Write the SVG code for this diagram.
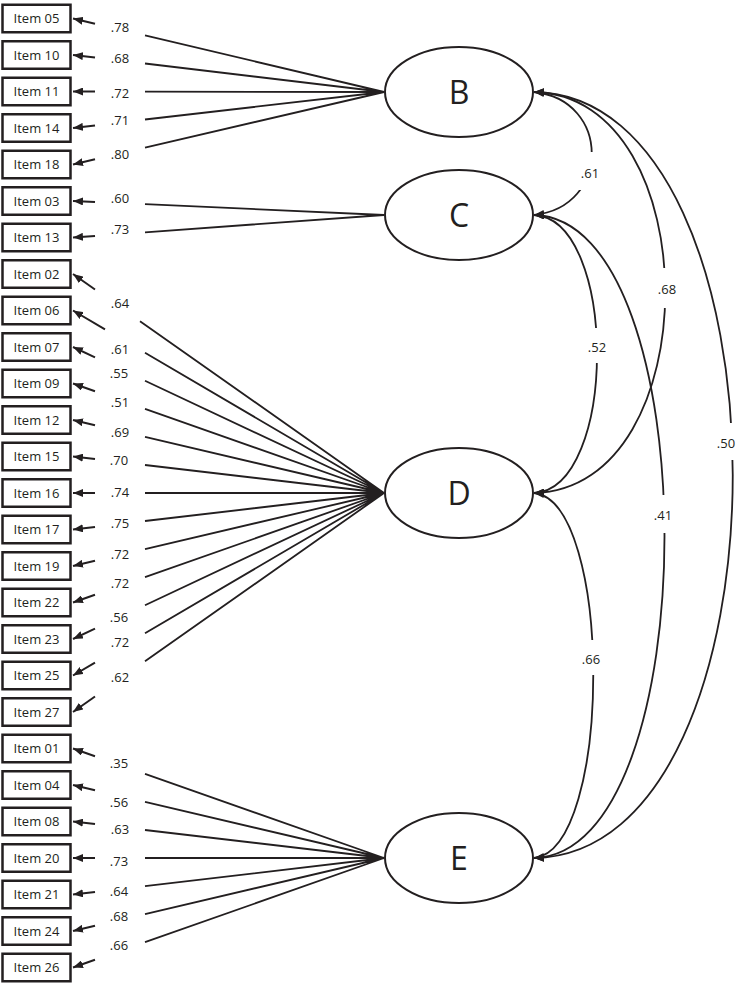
<svg xmlns="http://www.w3.org/2000/svg" width="736" height="983" viewBox="0 0 736 983">
<defs>
<marker id="ah" viewBox="0 0 10 8" refX="10" refY="4" markerWidth="10" markerHeight="8" markerUnits="userSpaceOnUse" orient="auto-start-reverse"><path d="M0,0 L10,4 L0,8 z" fill="#231f20"/></marker>
<style>
.box{fill:#fff;stroke:#231f20;stroke-width:2.5}
.it{font-family:"Open Sans","Liberation Sans",sans-serif;font-size:13px;fill:#231f20;text-anchor:middle}
.lab{font-family:"Open Sans","Liberation Sans",sans-serif;font-size:13px;fill:#231f20;text-anchor:middle}
.fac{fill:#fff;stroke:#231f20;stroke-width:2}
.ft{font-family:"Open Sans","Liberation Sans",sans-serif;font-size:32px;fill:#231f20;text-anchor:middle}
.ln{stroke:#231f20;stroke-width:1.8;fill:none}
.ar{stroke:#231f20;stroke-width:2;fill:none;marker-end:url(#ah)}
.cv{stroke:#231f20;stroke-width:1.8;fill:none;marker-start:url(#ah);marker-end:url(#ah)}
.gap{fill:#fff}
</style>
</defs>
<rect width="736" height="983" fill="#fff"/>
<g id="connectors">
<path class="ln" d="M145,35.4 L384,92 M145,63.5 L384,92 M145,91.7 L384,92 M145,119.5 L384,92 M145,147.6 L384,92"/>
<path class="ln" d="M145,204.2 L384,215 M145,232.3 L384,215"/>
<path class="ln" d="M140,321.2 L384,493 M145,352.8 L384,493 M145,380.8 L384,493 M145,408.9 L384,493 M145,436.9 L384,493 M145,465 L384,493 M145,493 L384,493 M145,521 L384,493 M145,549.1 L384,493 M145,577.2 L384,493 M145,605.2 L384,493 M145,633.3 L384,493 M145,661.3 L384,493"/>
<path class="ln" d="M145,773.9 L384,858 M145,801.9 L384,858 M145,830 L384,858 M145,858 L384,858 M145,886.1 L384,858 M145,914.1 L384,858 M145,942.2 L384,858"/>
<path class="ar" d="M95,23.7 L73,18.5"/>
<path class="ar" d="M95,57.6 L73,55"/>
<path class="ar" d="M95,91.5 L73,91.5"/>
<path class="ar" d="M95,125.4 L73,128"/>
<path class="ar" d="M95,159.3 L73,164.5"/>
<path class="ar" d="M95,202 L73,201"/>
<path class="ar" d="M95,235.9 L73,237.5"/>
<path class="ar" d="M95,289.5 L73,274"/>
<path class="ar" d="M105,329.3 L73,310.5"/>
<path class="ar" d="M95,357.3 L73,347"/>
<path class="ar" d="M95,391.2 L73,383.5"/>
<path class="ar" d="M95,425.2 L73,420"/>
<path class="ar" d="M95,459.1 L73,456.5"/>
<path class="ar" d="M95,493 L73,493"/>
<path class="ar" d="M95,526.9 L73,529.5"/>
<path class="ar" d="M95,560.8 L73,566"/>
<path class="ar" d="M95,594.8 L73,602.5"/>
<path class="ar" d="M95,628.7 L73,639"/>
<path class="ar" d="M95,662.6 L73,675.5"/>
<path class="ar" d="M95,696.5 L73,712"/>
<path class="ar" d="M95,756.2 L73,748.5"/>
<path class="ar" d="M95,790.2 L73,785"/>
<path class="ar" d="M95,824.1 L73,821.5"/>
<path class="ar" d="M95,858 L73,858"/>
<path class="ar" d="M95,891.9 L73,894.5"/>
<path class="ar" d="M95,925.8 L73,931"/>
<path class="ar" d="M95,959.8 L73,967.5"/>
<g class="lab">
<text x="120" y="31.5">.78</text>
<text x="120" y="62.5">.68</text>
<text x="120" y="97.5">.72</text>
<text x="120" y="124.5">.71</text>
<text x="120" y="158.5">.80</text>
<text x="120" y="202.5">.60</text>
<text x="120" y="233.5">.73</text>
<text x="120" y="307.5">.64</text>
<text x="120" y="353.5">.61</text>
<text x="119" y="377.5">.55</text>
<text x="120" y="406.5">.51</text>
<text x="120" y="436.5">.69</text>
<text x="119" y="464.5">.70</text>
<text x="120" y="496.5">.74</text>
<text x="120" y="527.5">.75</text>
<text x="120" y="558.5">.72</text>
<text x="120" y="587.5">.72</text>
<text x="119" y="621.5">.56</text>
<text x="120" y="646.5">.72</text>
<text x="120" y="681.5">.62</text>
<text x="119" y="767.5">.35</text>
<text x="119" y="806.5">.56</text>
<text x="120" y="833.5">.63</text>
<text x="119" y="865.5">.73</text>
<text x="119" y="895.5">.64</text>
<text x="119" y="920.5">.68</text>
<text x="119" y="949.5">.66</text>
</g>
<path class="cv" d="M534,92 C611,100 611,207 534,215"/>
<path class="cv" d="M534,92 C709,96 709,489 534,493"/>
<path class="cv" d="M534,92 C799,96 799,854 534,858"/>
<path class="cv" d="M534,215 C618,219 618,489 534,493"/>
<path class="cv" d="M534,215 C708,219 708,854 534,858"/>
<path class="cv" d="M534,493 C613,501 613,850 534,858"/>
<rect class="gap" x="578" y="152" width="24" height="38"/>
<rect class="gap" x="655" y="268" width="24" height="40"/>
<rect class="gap" x="585" y="328" width="24" height="35"/>
<rect class="gap" x="715" y="423" width="21" height="37"/>
<rect class="gap" x="651" y="495" width="24" height="38"/>
<rect class="gap" x="579" y="640" width="24" height="35"/>
<g class="lab">
<text x="590" y="177.5">.61</text>
<text x="667" y="293.5">.68</text>
<text x="597" y="351.5">.52</text>
<text x="726" y="447.5">.50</text>
<text x="663" y="519.5">.41</text>
<text x="591" y="663.5">.66</text>
</g>
</g>
<g id="B"><ellipse class="fac" cx="459" cy="92" rx="74" ry="45"/><text class="ft" x="459" y="103.5">B</text></g>
<g id="C"><ellipse class="fac" cx="459" cy="215" rx="74" ry="45"/><text class="ft" x="459" y="226.5">C</text></g>
<g id="D"><ellipse class="fac" cx="459" cy="493" rx="74" ry="45"/><text class="ft" x="459" y="504.5">D</text></g>
<g id="E"><ellipse class="fac" cx="459" cy="858" rx="74" ry="45"/><text class="ft" x="459" y="869.5">E</text></g>
<g id="item05"><rect class="box" x="2.5" y="4.75" width="68" height="27.5"/><text class="it" x="36.5" y="23">Item 05</text></g>
<g id="item10"><rect class="box" x="2.5" y="41.25" width="68" height="27.5"/><text class="it" x="36.5" y="59.5">Item 10</text></g>
<g id="item11"><rect class="box" x="2.5" y="77.75" width="68" height="27.5"/><text class="it" x="36.5" y="96">Item 11</text></g>
<g id="item14"><rect class="box" x="2.5" y="114.25" width="68" height="27.5"/><text class="it" x="36.5" y="132.5">Item 14</text></g>
<g id="item18"><rect class="box" x="2.5" y="150.75" width="68" height="27.5"/><text class="it" x="36.5" y="169">Item 18</text></g>
<g id="item03"><rect class="box" x="2.5" y="187.25" width="68" height="27.5"/><text class="it" x="36.5" y="205.5">Item 03</text></g>
<g id="item13"><rect class="box" x="2.5" y="223.75" width="68" height="27.5"/><text class="it" x="36.5" y="242">Item 13</text></g>
<g id="item02"><rect class="box" x="2.5" y="260.25" width="68" height="27.5"/><text class="it" x="36.5" y="278.5">Item 02</text></g>
<g id="item06"><rect class="box" x="2.5" y="296.75" width="68" height="27.5"/><text class="it" x="36.5" y="315">Item 06</text></g>
<g id="item07"><rect class="box" x="2.5" y="333.25" width="68" height="27.5"/><text class="it" x="36.5" y="351.5">Item 07</text></g>
<g id="item09"><rect class="box" x="2.5" y="369.75" width="68" height="27.5"/><text class="it" x="36.5" y="388">Item 09</text></g>
<g id="item12"><rect class="box" x="2.5" y="406.25" width="68" height="27.5"/><text class="it" x="36.5" y="424.5">Item 12</text></g>
<g id="item15"><rect class="box" x="2.5" y="442.75" width="68" height="27.5"/><text class="it" x="36.5" y="461">Item 15</text></g>
<g id="item16"><rect class="box" x="2.5" y="479.25" width="68" height="27.5"/><text class="it" x="36.5" y="497.5">Item 16</text></g>
<g id="item17"><rect class="box" x="2.5" y="515.75" width="68" height="27.5"/><text class="it" x="36.5" y="534">Item 17</text></g>
<g id="item19"><rect class="box" x="2.5" y="552.25" width="68" height="27.5"/><text class="it" x="36.5" y="570.5">Item 19</text></g>
<g id="item22"><rect class="box" x="2.5" y="588.75" width="68" height="27.5"/><text class="it" x="36.5" y="607">Item 22</text></g>
<g id="item23"><rect class="box" x="2.5" y="625.25" width="68" height="27.5"/><text class="it" x="36.5" y="643.5">Item 23</text></g>
<g id="item25"><rect class="box" x="2.5" y="661.75" width="68" height="27.5"/><text class="it" x="36.5" y="680">Item 25</text></g>
<g id="item27"><rect class="box" x="2.5" y="698.25" width="68" height="27.5"/><text class="it" x="36.5" y="716.5">Item 27</text></g>
<g id="item01"><rect class="box" x="2.5" y="734.75" width="68" height="27.5"/><text class="it" x="36.5" y="753">Item 01</text></g>
<g id="item04"><rect class="box" x="2.5" y="771.25" width="68" height="27.5"/><text class="it" x="36.5" y="789.5">Item 04</text></g>
<g id="item08"><rect class="box" x="2.5" y="807.75" width="68" height="27.5"/><text class="it" x="36.5" y="826">Item 08</text></g>
<g id="item20"><rect class="box" x="2.5" y="844.25" width="68" height="27.5"/><text class="it" x="36.5" y="862.5">Item 20</text></g>
<g id="item21"><rect class="box" x="2.5" y="880.75" width="68" height="27.5"/><text class="it" x="36.5" y="899">Item 21</text></g>
<g id="item24"><rect class="box" x="2.5" y="917.25" width="68" height="27.5"/><text class="it" x="36.5" y="935.5">Item 24</text></g>
<g id="item26"><rect class="box" x="2.5" y="953.75" width="68" height="27.5"/><text class="it" x="36.5" y="972">Item 26</text></g>
</svg>
